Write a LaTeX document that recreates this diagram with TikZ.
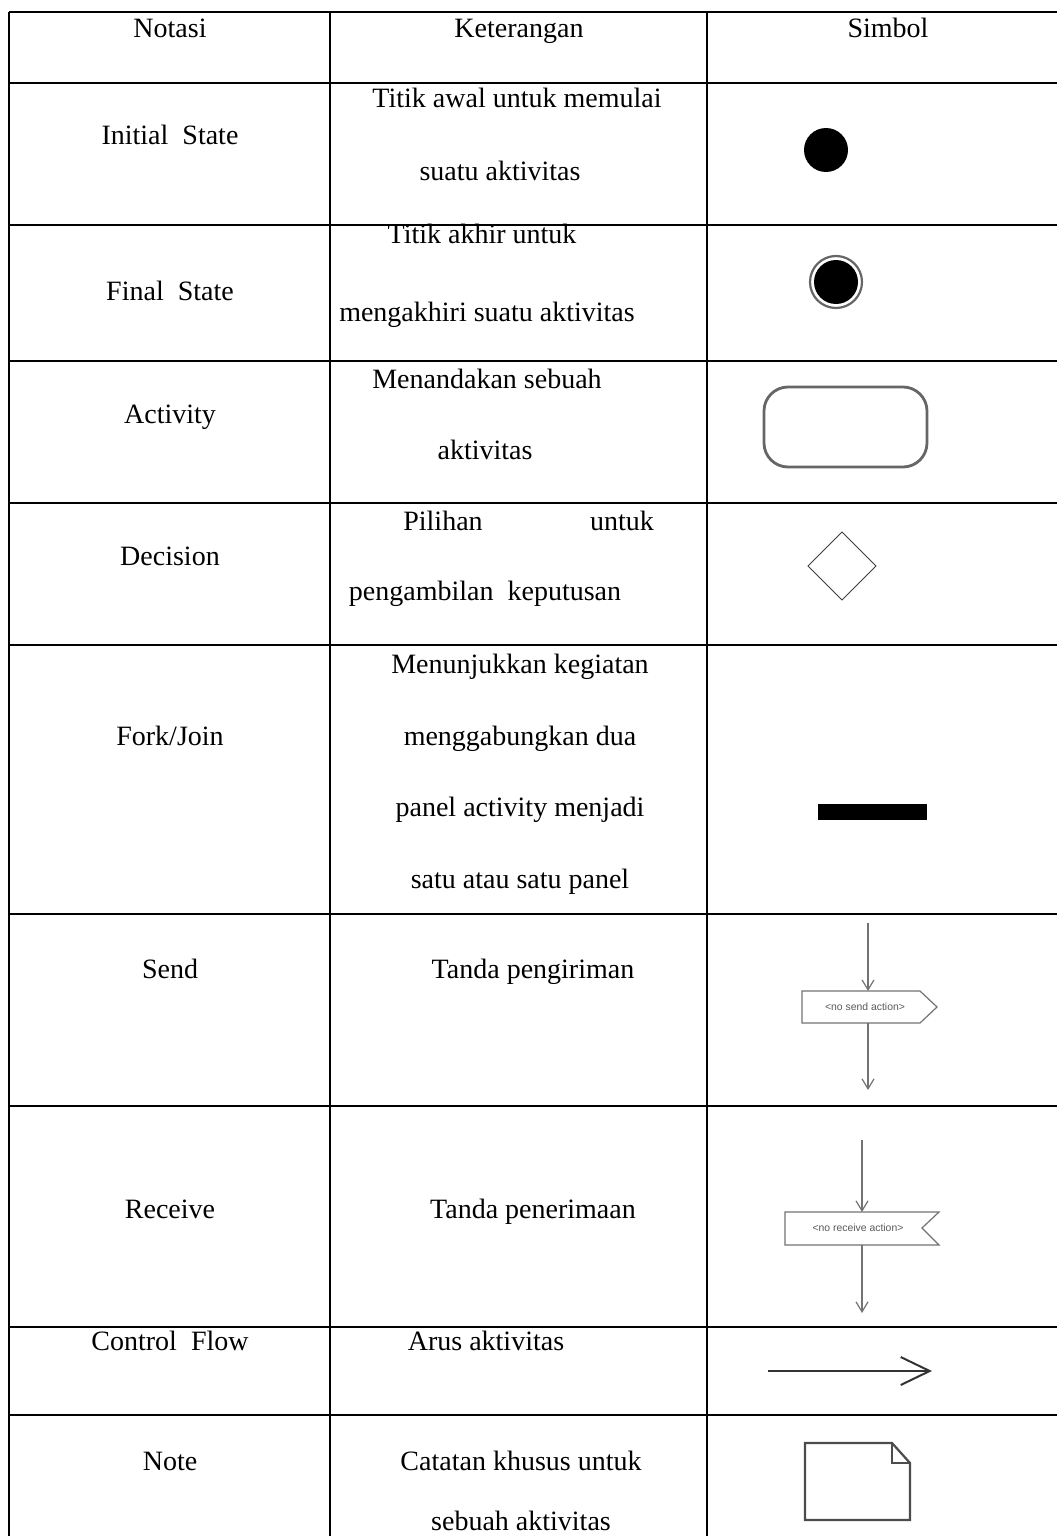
\documentclass[tikz,border=0pt]{standalone}
\usepackage{fontspec}
\setmainfont{Liberation Serif}
\newfontfamily\symfont{Liberation Sans}
\usetikzlibrary{arrows.meta}
\begin{document}
\begin{tikzpicture}[x=0.5pt,y=-0.5pt,
  grid/.style={line width=1.4pt,black},
  txt/.style={inner sep=0pt,anchor=base,font=\fontsize{14}{16}\selectfont},
  symline/.style={draw=black!55,line width=0.6pt},
  vbarb/.style={-{Straight Barb[length=5pt,width=6pt]}},
  tiny/.style={inner sep=0pt,font=\symfont\fontsize{5.2}{6}\selectfont,text=black!65}]
\useasboundingbox (0,0) rectangle (1057,1536);
\fill[white] (0,0) rectangle (1057,1536);
% table grid
\foreach \yy in {12,83,225,361,503,645,914,1106,1327,1415}
  \draw[grid] (9,\yy) -- (1057,\yy);
\foreach \xx in {9,330,707}
  \draw[grid] (\xx,12) -- (\xx,1536);
% header
\node[txt] (h1) at (170,38) {Notasi};
\node[txt] (h2) at (519,38) {Keterangan};
\node[txt] (h3) at (888,38) {Simbol};
% column 1
\node[txt] (n1) at (170,145) {Initial\ \ State};
\node[txt] (n2) at (170,300) {Final\ \ State};
\node[txt] (n3) at (170,423) {Activity};
\node[txt] (n4) at (170,565) {Decision};
\node[txt] (n5) at (170,745) {Fork/Join};
\node[txt] (n6) at (170,978) {Send};
\node[txt] (n7) at (170,1218) {Receive};
\node[txt] (n8) at (170,1350) {Control\ \ Flow};
\node[txt] (n9) at (170,1470) {Note};
% column 2
\node[txt] (k1a) at (517,108) {Titik awal untuk memulai};
\node[txt] (k1b) at (500,180) {suatu aktivitas};
\node[txt] (k2a) at (482,243) {Titik akhir untuk};
\node[txt] (k2b) at (487,321) {mengakhiri suatu aktivitas};
\node[txt] (k3a) at (487,388) {Menandakan sebuah};
\node[txt] (k3b) at (485,459) {aktivitas};
\node[txt] (k4a) at (443,530) {Pilihan};
\node[txt] (k4b) at (622,530) {untuk};
\node[txt] (k4c) at (485,600) {pengambilan\ \ keputusan};
\node[txt] (k5a) at (520,673) {Menunjukkan kegiatan};
\node[txt] (k5b) at (520,745) {menggabungkan dua};
\node[txt] (k5c) at (520,816) {panel activity menjadi};
\node[txt] (k5d) at (520,888) {satu atau satu panel};
\node[txt] (k6) at (533,978) {Tanda pengiriman};
\node[txt] (k7) at (533,1218) {Tanda penerimaan};
\node[txt] (k8) at (486,1350) {Arus aktivitas};
\node[txt] (k9a) at (521,1470) {Catatan khusus untuk};
\node[txt] (k9b) at (521,1530) {sebuah aktivitas};
% symbols
% initial state
\fill[black] (826,150) circle[radius=22];
% final state
\draw[black!60,line width=1.1pt] (836,282) circle[radius=26];
\fill[black] (836,282) circle[radius=22];
% activity
\draw[black!60,line width=1.4pt,rounded corners=12pt] (764,387) rectangle (927,467);
% decision
\draw[black!75,line width=0.5pt] (842,532) -- (876,566) -- (842,600) -- (808,566) -- cycle;
% fork/join
\fill[black] (818,804) rectangle (927,820);
% send
\draw[symline,fill=white] (802,991) -- (920,991) -- (937,1007) -- (920,1023) -- (802,1023) -- cycle;
\node[tiny] (sendlbl) at (865,1007) {<no send action>};
\coordinate (s1) at (868,923);
\coordinate (s2) at (868,991);
\coordinate (s3) at (868,1023);
\coordinate (s4) at (868,1090);
\draw[symline,vbarb] (s1) -- (s2);
\draw[symline,vbarb] (s3) -- (s4);
% receive
\draw[symline,fill=white] (785,1212) -- (939,1212) -- (922,1228) -- (939,1245) -- (785,1245) -- cycle;
\node[tiny] (reclbl) at (858,1228) {<no receive action>};
\coordinate (r1) at (862,1140);
\coordinate (r2) at (862,1212);
\coordinate (r3) at (862,1245);
\coordinate (r4) at (862,1313);
\draw[symline,vbarb] (r1) -- (r2);
\draw[symline,vbarb] (r3) -- (r4);
% control flow
\coordinate (c1) at (768,1371);
\coordinate (c2) at (932,1371);
\draw[black!80,line width=1pt,-{Straight Barb[length=14.5pt,width=14pt]}] (c1) -- (c2);
% note
\draw[black!70,line width=1.1pt] (805,1443) -- (892,1443) -- (910,1463) -- (910,1520) -- (805,1520) -- cycle;
\draw[black!70,line width=1.1pt] (892,1443) -- (892,1463) -- (910,1463);
\end{tikzpicture}
\end{document}
